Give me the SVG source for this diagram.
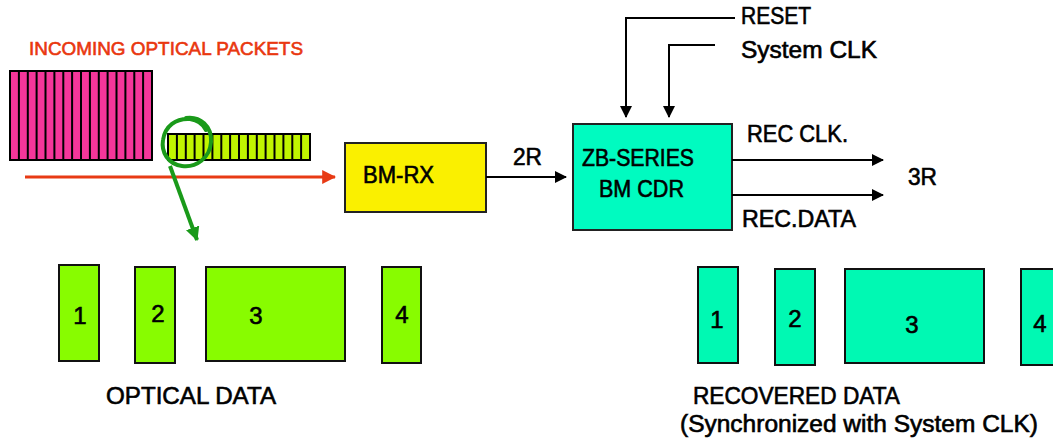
<svg xmlns="http://www.w3.org/2000/svg" width="1053" height="442" viewBox="0 0 1053 442">
<style>
text{font-family:"Liberation Sans",Arial,sans-serif;fill:#000;stroke:#000;stroke-width:0.6;}
.lbl{font-size:23px;}
.num{font-size:24px;text-anchor:middle;}
.blk{stroke:#000;stroke-width:2;}
.wire{fill:none;stroke:#000;stroke-width:2;}
.opt{fill:#88fc00;stroke:#111;stroke-width:2;}
.rec{fill:#00f9b3;stroke:#111;stroke-width:2;}
</style>
<defs>
<marker id="ah" viewBox="0 0 12 12" refX="11" refY="6" markerWidth="12" markerHeight="12" markerUnits="userSpaceOnUse" orient="auto">
<path d="M0,0 L12,6 L0,12 Z" fill="#000"/>
</marker>
<marker id="ahr" viewBox="0 0 12 12" refX="11" refY="6" markerWidth="14" markerHeight="14" markerUnits="userSpaceOnUse" orient="auto">
<path d="M0,0 L12,6 L0,12 Z" fill="#e83a14"/>
</marker>
<marker id="ahg" viewBox="0 0 12 12" refX="11" refY="6" markerWidth="14" markerHeight="14" markerUnits="userSpaceOnUse" orient="auto">
<path d="M0,0 L12,6 L0,12 Z" fill="#1a9a1a"/>
</marker>
</defs>

<g id="title">
<text x="29" y="55" font-size="18.5" style="fill:#e9370f;stroke:#e9370f;stroke-width:0.6" textLength="274" lengthAdjust="spacingAndGlyphs">INCOMING OPTICAL PACKETS</text>
</g>

<g id="packets-magenta">
<rect x="10" y="71" width="142" height="89" fill="#f5369a" stroke="#000" stroke-width="2"/>
<path class="blk" d="M18.9,71V160M27.8,71V160M36.6,71V160M45.5,71V160M54.4,71V160M63.3,71V160M72.1,71V160M81,71V160M89.9,71V160M98.8,71V160M107.6,71V160M116.5,71V160M125.4,71V160M134.3,71V160M143.1,71V160"/>
</g>

<g id="packets-green">
<rect x="168" y="134" width="142" height="26" fill="#c0f500" stroke="#000" stroke-width="2"/>
<path class="blk" d="M176.9,134V160M185.8,134V160M194.6,134V160M203.5,134V160M212.4,134V160M221.3,134V160M230.1,134V160M239,134V160M247.9,134V160M256.8,134V160M265.6,134V160M274.5,134V160M283.4,134V160M292.3,134V160M301.1,134V160"/>
</g>

<g id="bm-rx">
<rect x="345" y="143" width="141" height="69" fill="#faf000" stroke="#222" stroke-width="2"/>
<text class="lbl" x="363" y="183" textLength="71" lengthAdjust="spacingAndGlyphs">BM-RX</text>
</g>

<g id="zb-cdr">
<rect x="573" y="124" width="159" height="106" fill="#00fbc0" stroke="#222" stroke-width="2"/>
<text class="lbl" x="582" y="166" textLength="112" lengthAdjust="spacingAndGlyphs">ZB-SERIES</text>
<text class="lbl" x="599" y="197" textLength="85" lengthAdjust="spacingAndGlyphs">BM CDR</text>
</g>

<g id="connectors">
<line x1="25" y1="177" x2="335" y2="177" stroke="#e83a14" stroke-width="3" marker-end="url(#ahr)"/>
<path d="M186,118 C200,116 212,126 211,142 C210,158 196,168 182,166 C168,164 161,152 163,140 C165,126 176,118 190,119 C197,120 203,124 206,130" fill="none" stroke="#1a9a1a" stroke-width="4" stroke-linejoin="round" stroke-linecap="round"/>
<line x1="170" y1="166" x2="197" y2="240" stroke="#1a9a1a" stroke-width="4" marker-end="url(#ahg)"/>
<line class="wire" x1="486" y1="177" x2="566" y2="177" marker-end="url(#ah)"/>
<path class="wire" d="M735,18H626V117" marker-end="url(#ah)"/>
<path class="wire" d="M715,45H669V117" marker-end="url(#ah)"/>
<line class="wire" x1="732" y1="160" x2="883" y2="160" marker-end="url(#ah)"/>
<line class="wire" x1="732" y1="195" x2="883" y2="195" marker-end="url(#ah)"/>
</g>

<g id="labels">
<text class="lbl" x="741" y="24" textLength="70" lengthAdjust="spacingAndGlyphs">RESET</text>
<text class="lbl" x="741" y="58" textLength="136" lengthAdjust="spacingAndGlyphs">System CLK</text>
<text class="lbl" x="513" y="165" textLength="29" lengthAdjust="spacingAndGlyphs">2R</text>
<text class="lbl" x="747" y="142" textLength="101" lengthAdjust="spacingAndGlyphs">REC CLK.</text>
<text class="lbl" x="742" y="227" textLength="114" lengthAdjust="spacingAndGlyphs">REC.DATA</text>
<text class="lbl" x="908" y="185" textLength="29" lengthAdjust="spacingAndGlyphs">3R</text>
</g>

<g id="optical-data">
<rect class="opt" x="59" y="265" width="40" height="96"/>
<rect class="opt" x="135" y="267" width="40" height="96"/>
<rect class="opt" x="206" y="267" width="139" height="94"/>
<rect class="opt" x="382" y="267" width="39" height="96"/>
<text class="num" x="80" y="324">1</text>
<text class="num" x="158" y="322">2</text>
<text class="num" x="256" y="324">3</text>
<text class="num" x="402" y="323">4</text>
<text class="lbl" x="106" y="404" textLength="170" lengthAdjust="spacingAndGlyphs">OPTICAL DATA</text>
</g>

<g id="recovered-data">
<rect class="rec" x="698" y="267" width="40" height="96"/>
<rect class="rec" x="775" y="269" width="40" height="96"/>
<rect class="rec" x="845" y="269" width="139" height="94"/>
<rect class="rec" x="1021" y="269" width="40" height="96"/>
<text class="num" x="717" y="328">1</text>
<text class="num" x="795" y="327">2</text>
<text class="num" x="912" y="333">3</text>
<text class="num" x="1040" y="332">4</text>
<text class="lbl" x="693" y="404" textLength="207" lengthAdjust="spacingAndGlyphs">RECOVERED DATA</text>
<text class="lbl" x="680" y="432" textLength="358" lengthAdjust="spacingAndGlyphs">(Synchronized with System CLK)</text>
</g>
</svg>
